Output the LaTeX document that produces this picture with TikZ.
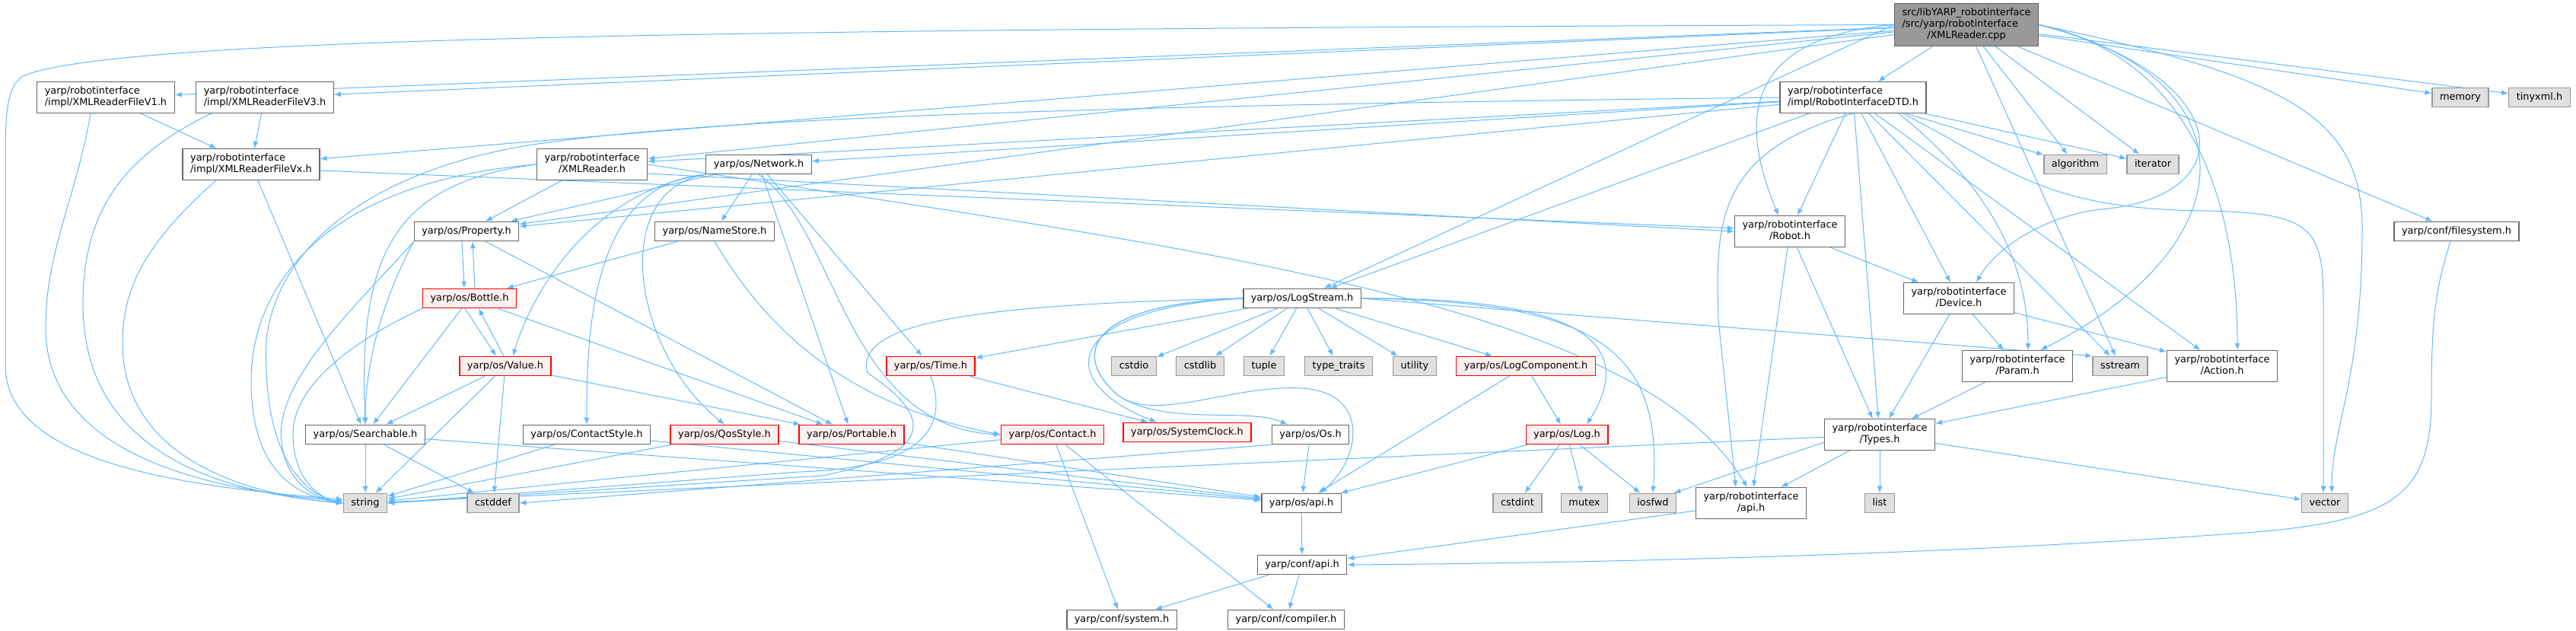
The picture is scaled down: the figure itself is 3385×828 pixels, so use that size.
\documentclass[tikz,border=0pt]{standalone}
\usepackage{fontspec}
\setmainfont{DejaVu Sans}
\usepackage{xcolor}
\usepackage{tikz}
\usetikzlibrary{arrows.meta}
\definecolor{edgeblue}{HTML}{63B8FF}
\definecolor{boxgray}{HTML}{666666}
\definecolor{sysgray}{HTML}{999999}
\definecolor{sysfill}{HTML}{E0E0E0}
\definecolor{redfill}{HTML}{FFF0F0}
\definecolor{rootfill}{HTML}{999999}
\pgfdeclarelayer{background}
\pgfsetlayers{background,main}
\newcommand{\twolines}[2]{\begin{tabular}{@{}l@{}}#1\\\multicolumn{1}{@{}c@{}}{#2}\end{tabular}}
\newcommand{\threelines}[3]{\begin{tabular}{@{}l@{}}#1\\#2\\\multicolumn{1}{@{}c@{}}{#3}\end{tabular}}

\begin{document}
\begin{tikzpicture}[
x=1pt, y=-1pt,
every node/.style={font=\fontsize{12.9pt}{15.3pt}\selectfont, inner xsep=10pt, inner ysep=5pt, execute at begin node=\strut},
file/.style={rectangle, draw=boxgray, fill=white, line width=1.3pt},
sysfile/.style={rectangle, draw=sysgray, fill=sysfill, line width=1.3pt},
cutfile/.style={rectangle, draw=red, fill=redfill, line width=1.3pt},
rootfile/.style={rectangle, draw=boxgray, fill=rootfill, line width=1.3pt},
edge/.style={-{Latex[length=9pt,width=7pt]}, draw=edgeblue, line width=1pt}
]
\useasboundingbox (0,0) rectangle (3385,828);

% Source file (top)

\node[rootfile] (root) at (2584,32.5) {\threelines{src/libYARP\_robotinterface}{/src/yarp/robotinterface}{/XMLReader.cpp}};

% Row 1

\node[file] (vone) at (139,128) {\twolines{yarp/robotinterface}{/impl/XMLReaderFileV1.h}};
\node[file] (vthree) at (348,128) {\twolines{yarp/robotinterface}{/impl/XMLReaderFileV3.h}};
\node[file] (dtd) at (2435,128) {\twolines{yarp/robotinterface}{/impl/RobotInterfaceDTD.h}};
\node[sysfile] (memory) at (3233,128) {memory};
\node[sysfile] (tinyxml) at (3337,128) {tinyxml.h};

% Row 2

\node[file] (vx) at (330,216) {\twolines{yarp/robotinterface}{/impl/XMLReaderFileVx.h}};
\node[file] (xmlreader) at (778,216) {\twolines{yarp/robotinterface}{/XMLReader.h}};
\node[file] (network) at (997,216) {yarp/os/Network.h};
\node[sysfile] (algorithm) at (2727,216) {algorithm};
\node[sysfile] (iterator) at (2829,216) {iterator};

% Row 3

\node[file] (property) at (613,304) {yarp/os/Property.h};
\node[file] (namestore) at (939,304) {yarp/os/NameStore.h};
\node[file] (robot) at (2352,304) {\twolines{yarp/robotinterface}{/Robot.h}};
\node[file] (filesystem) at (3228,304) {yarp/conf/filesystem.h};

% Row 4

\node[cutfile] (bottle) at (617,392) {yarp/os/Bottle.h};
\node[file] (logstream) at (1711,392) {yarp/os/LogStream.h};
\node[file] (device) at (2574,392) {\twolines{yarp/robotinterface}{/Device.h}};

% Row 5

\node[cutfile] (value) at (664,481) {yarp/os/Value.h};
\node[cutfile] (time) at (1223,481) {yarp/os/Time.h};
\node[sysfile] (cstdio) at (1490,481) {cstdio};
\node[sysfile] (cstdlib) at (1577,481) {cstdlib};
\node[sysfile] (tuple) at (1661,481) {tuple};
\node[sysfile] (typetraits) at (1759,481) {type\_traits};
\node[sysfile] (utility) at (1859,481) {utility};
\node[cutfile] (logcomponent) at (2005,481) {yarp/os/LogComponent.h};
\node[file] (param) at (2651,481) {\twolines{yarp/robotinterface}{/Param.h}};
\node[sysfile] (sstream) at (2786,481) {sstream};
\node[file] (action) at (2920,481) {\twolines{yarp/robotinterface}{/Action.h}};

% Row 6

\node[file] (searchable) at (480,571) {yarp/os/Searchable.h};
\node[file] (contactstyle) at (771,571) {yarp/os/ContactStyle.h};
\node[cutfile] (qosstyle) at (952,571) {yarp/os/QosStyle.h};
\node[cutfile] (portable) at (1119,571) {yarp/os/Portable.h};
\node[cutfile] (contact) at (1383,571) {yarp/os/Contact.h};
\node[cutfile] (systemclock) at (1560,568) {yarp/os/SystemClock.h};
\node[file] (os) at (1722,571) {yarp/os/Os.h};
\node[cutfile] (log) at (2059,571) {yarp/os/Log.h};
\node[file] (types) at (2470,571) {\twolines{yarp/robotinterface}{/Types.h}};

% Row 7

\node[sysfile] (string) at (480,661) {string};
\node[sysfile] (cstddef) at (648,661) {cstddef};
\node[file] (osapi) at (1710,661) {yarp/os/api.h};
\node[sysfile] (cstdint) at (1994,661) {cstdint};
\node[sysfile] (mutex) at (2082,661) {mutex};
\node[sysfile] (iosfwd) at (2172,661) {iosfwd};
\node[file] (riapi) at (2301,661) {\twolines{yarp/robotinterface}{/api.h}};
\node[sysfile] (list) at (2470,661) {list};
\node[sysfile] (vector) at (3055,661) {vector};

% Rows 8 and 9

\node[file] (confapi) at (1711,742) {yarp/conf/api.h};
\node[file] (confsystem) at (1474,814) {yarp/conf/system.h};
\node[file] (confcompiler) at (1690,814) {yarp/conf/compiler.h};

\begin{pgfonlayer}{background}

% Straight includes

\foreach \src/\dst in {root/vone, root/vthree, root/vx, root/xmlreader, root/dtd, root/property,
  root/algorithm, root/iterator, root/memory, root/tinyxml, root/filesystem, root/sstream,
  vone/vx, vthree/vx, vx/searchable, xmlreader/property,
  dtd/xmlreader, dtd/network, dtd/property, dtd/logstream, dtd/robot, dtd/device, dtd/action,
  dtd/sstream, dtd/types, dtd/algorithm, dtd/iterator,
  network/property, network/namestore, network/portable, network/time,
  namestore/bottle, property/portable, bottle/searchable, bottle/portable,
  value/searchable, value/string, value/cstddef, value/portable,
  searchable/string, searchable/cstddef, searchable/osapi,
  contactstyle/string, contactstyle/osapi, qosstyle/string, qosstyle/osapi, portable/osapi,
  contact/string, contact/confsystem, contact/confcompiler,
  time/systemclock, os/osapi,
  logstream/time, logstream/cstdio, logstream/cstdlib, logstream/tuple, logstream/typetraits,
  logstream/utility, logstream/logcomponent,
  logcomponent/osapi, logcomponent/log,
  log/osapi, log/cstdint, log/mutex, log/iosfwd,
  robot/device, robot/types, robot/riapi,
  device/param, device/types, device/action, param/types, action/types,
  types/string, types/riapi, types/list, types/vector,
  osapi/confapi, riapi/confapi, confapi/confsystem, confapi/confcompiler}
  \draw[edge] (\src) -- (\dst);

% Includes from the source file

\draw[edge] (root.west) .. controls (1000,38) and (150,48) .. (30,100) .. controls (8,115) and (7,150) .. (7,220) -- (7,480) .. controls (7,610) and (250,640) .. ([yshift=5pt]string.west);
\draw[edge] (root.west) -- (logstream);
\draw[edge] (root.west) .. controls (2280,50) and (2290,170) .. ([xshift=-15pt]robot.north);
\draw[edge] (root.east) .. controls (2940,100) and (2950,260) .. (2760,275) .. controls (2680,285) and (2620,330) .. ([xshift=23pt]device.north);
\draw[edge] (root.east) .. controls (2960,100) and (2960,320) .. ([xshift=30pt]param.north);
\draw[edge] (root.east) .. controls (2900,80) and (2940,300) .. ([xshift=20pt]action.north);
\draw[edge] (root.east) .. controls (3000,100) and (3104,150) .. (3104,300) .. controls (3104,500) and (3064,560) .. ([xshift=9pt]vector.north);

% Reader headers

\draw[edge] ([xshift=-20pt]vone.south) .. controls (100,260) and (60,330) .. (60,430) .. controls (60,600) and (280,645) .. ([yshift=3pt]string.west);
\draw[edge] ([xshift=-70pt]vthree.south) .. controls (150,210) and (109,290) .. (109,400) .. controls (109,600) and (300,648) .. (string.west);
\draw[edge] ([xshift=-46pt]vx.south) .. controls (190,320) and (161,380) .. (161,450) .. controls (161,600) and (320,650) .. (string.west);
\draw[edge] ([yshift=-8pt]vx.east) -- ([yshift=4pt]robot.west);
\draw[edge] ([yshift=-12pt]xmlreader.east) -- (robot.west);
\draw[edge] (xmlreader.west) .. controls (520,240) and (470,330) .. (searchable.north);
\draw[edge] (xmlreader.west) .. controls (420,240) and (330,380) .. (330,500) .. controls (330,610) and (380,650) .. (string.west);
\draw[edge] (xmlreader.east) .. controls (1600,330) and (2150,400) .. ([xshift=-5pt]riapi.north);

% DTD header

\draw[edge] (dtd.west) .. controls (1300,140) and (900,160) .. (700,190) .. controls (480,225) and (360,330) .. (350,450) .. controls (345,600) and (400,650) .. (string.west);
\draw[edge] ([xshift=60pt]dtd.south) .. controls (2620,250) and (2665,350) .. ([xshift=14pt]param.north);
\draw[edge] (dtd.south) .. controls (2250,200) and (2255,300) .. (2258,420) -- ([xshift=-20pt]riapi.north);
\draw[edge] ([xshift=65pt]dtd.south) .. controls (2640,220) and (2680,275) .. (2900,277) .. controls (3040,280) and (3053,300) .. (3053,400) -- ([xshift=-2pt]vector.north);

% yarp/os headers

\draw[edge] (network.south) .. controls (1100,300) and (1110,560) .. (contact.west);
\draw[edge] (namestore.south) .. controls (1000,420) and (1100,530) .. (contact.west);
\draw[edge] (network.south west) .. controls (800,250) and (830,460) .. (qosstyle.north);
\draw[edge] (network.south west) .. controls (790,240) and (770,400) .. (contactstyle.north);
\draw[edge] (network.south west) .. controls (780,250) and (700,380) .. ([xshift=10pt]value.north);
\draw[edge] ([xshift=-6pt]property.south) -- ([xshift=-7pt]bottle.north);
\draw[edge] ([xshift=7pt]bottle.north) -- ([xshift=8pt]property.south);
\draw[edge] ([xshift=-6pt]bottle.south) -- ([xshift=-12pt]value.north);
\draw[edge] ([xshift=-2pt]value.north) -- ([xshift=12pt]bottle.south);
\draw[edge] (property.south west) .. controls (500,400) and (480,480) .. (searchable.north);
\draw[edge] (property.south west) .. controls (470,400) and (360,500) .. (370,580) .. controls (375,630) and (410,655) .. (string.west);
\draw[edge] (bottle.south west) .. controls (480,440) and (385,500) .. (385,570) .. controls (385,630) and (420,655) .. (string.west);
\draw[edge] (time.south) .. controls (1250,570) and (1200,615) .. (1050,620) -- (string.east);
\draw[edge] (os.south west) -- (cstddef.east);

% LogStream header

\draw[edge] (logstream.west) .. controls (1300,400) and (1120,420) .. (1140,490) .. controls (1200,530) and (1260,590) .. (1080,625) -- (string.east);
\draw[edge] (logstream.west) .. controls (1400,405) and (1380,500) .. ([xshift=-40pt]systemclock.north);
\draw[edge] (logstream.west) .. controls (1420,400) and (1410,470) .. (1470,520) .. controls (1530,560) and (1640,535) .. ([xshift=-30pt]os.north);
\draw[edge] (logstream.west) .. controls (1420,400) and (1410,470) .. (1470,520) .. controls (1520,555) and (1620,505) .. (1710,510) .. controls (1800,515) and (1790,600) .. ([xshift=25pt]osapi.north);
\draw[edge] (logstream.east) .. controls (2120,390) and (2140,470) .. ([xshift=26pt]log.north);
\draw[edge] (logstream.east) .. controls (2100,395) and (2185,460) .. (iosfwd.north);
\draw[edge] (logstream.east) -- (sstream.north west);

% robotinterface headers

\draw[edge] ([yshift=-10pt]types.west) -- ([xshift=-4pt]iosfwd.north east);
\draw[edge] ([xshift=-8pt]filesystem.south) .. controls (3200,380) and (3195,420) .. (3195,520) .. controls (3195,650) and (3150,685) .. (2950,700) .. controls (2700,718) and (2300,738) .. (confapi.east);

\end{pgfonlayer}

\end{tikzpicture}
\end{document}
